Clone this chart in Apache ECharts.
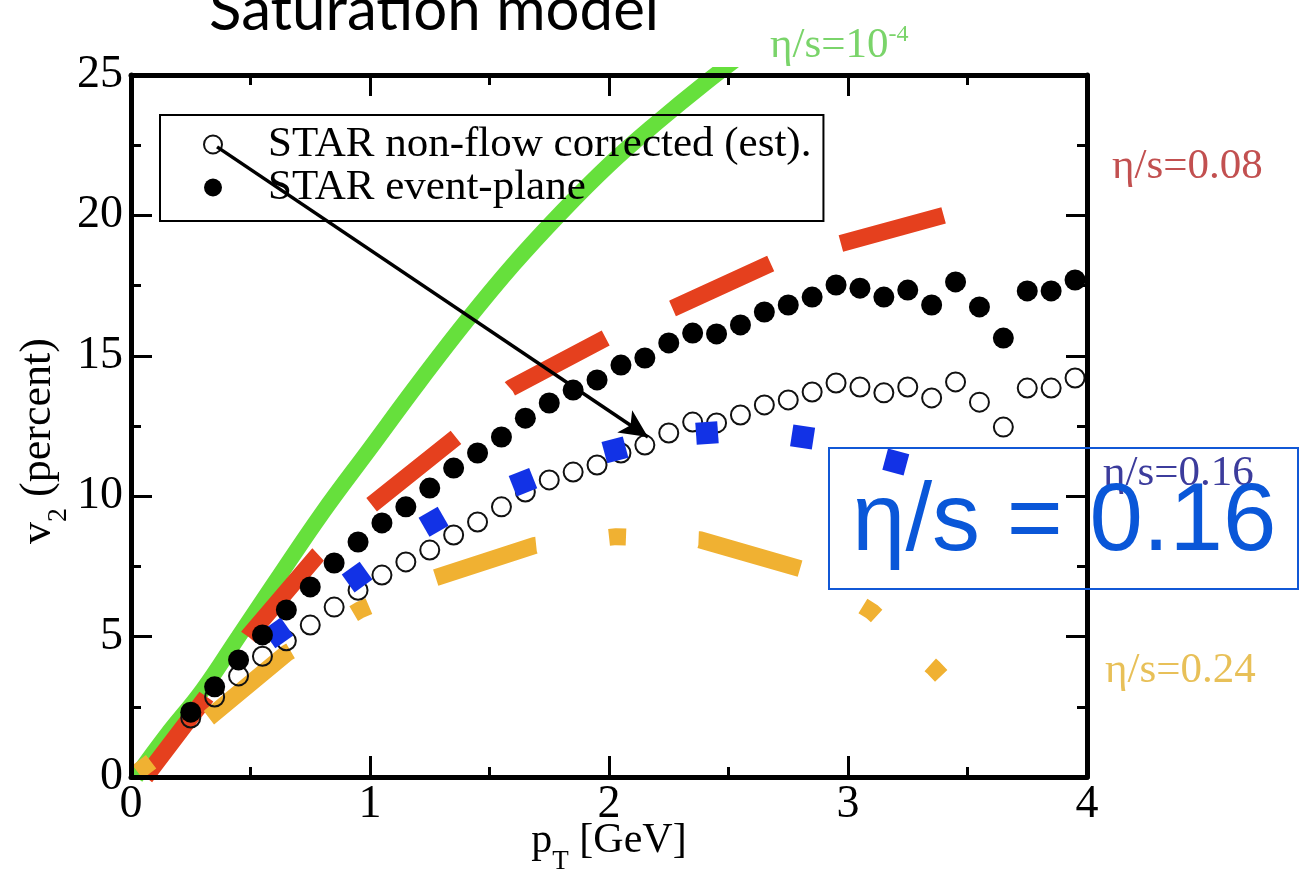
<!DOCTYPE html>
<html><head><meta charset="utf-8">
<script src="https://cdn.jsdelivr.net/npm/echarts@6/dist/echarts.min.js"></script>
<style>html,body{margin:0;padding:0;background:#fff}#c{width:1304px;height:872px}</style>
</head><body><div id="c"></div>
<script>
// ---- data ----
const pT = [0.25,0.35,0.45,0.55,0.65,0.75,0.85,0.95,1.05,1.15,1.25,1.35,1.45,1.55,1.65,1.75,1.85,1.95,2.05,2.15,2.25,2.35,2.45,2.55,2.65,2.75,2.85,2.95,3.05,3.15,3.25,3.35,3.45,3.55,3.65,3.75,3.85,3.95];
const eventPlane = [2.31,3.21,4.17,5.06,5.95,6.77,7.62,8.37,9.05,9.62,10.29,11.0,11.54,12.11,12.78,13.32,13.78,14.14,14.67,14.92,15.46,15.81,15.78,16.1,16.56,16.81,17.09,17.52,17.41,17.09,17.34,16.81,17.63,16.74,15.63,17.31,17.31,17.7];
const nonFlow = [2.1,2.85,3.6,4.3,4.85,5.41,6.05,6.65,7.19,7.66,8.08,8.62,9.08,9.62,10.15,10.58,10.86,11.11,11.54,11.82,12.25,12.64,12.61,12.89,13.25,13.43,13.71,14.03,13.89,13.68,13.89,13.5,14.07,13.35,12.46,13.85,13.85,14.21];

// eta/s = 1e-4 (green)
const ideal_pT = [0.02,0.15,0.3,0.45,0.6,0.8,1.0,1.2,1.4,1.6,1.8,2.0,2.2,2.4,2.6];
const ideal_v2 = [0,1.5,3.1,5.0,6.9,9.4,11.7,14.0,16.2,18.25,20.1,21.8,23.3,24.7,26.0];
// eta/s = 0.08 (red)
const v008_pT = [0.06,0.31,0.49,0.78,1.0,1.36,1.59,2.0,2.27,2.68,2.97,3.4];
const v008_v2 = [0,2.8,5.0,7.9,9.65,12.1,13.85,15.7,16.7,18.3,19.0,20.0];
// eta/s = 0.16 (blue squares)
const v016_pT = [0.615,0.946,1.266,1.64,2.025,2.41,2.81,3.2];
const v016_v2 = [5.13,7.12,9.09,10.5,11.65,12.25,12.11,11.22];
// eta/s = 0.24 (orange)
const v024_pT = [0,0.33,0.653,0.958,1.264,1.69,2.03,2.38,2.82,3.1,3.36,3.39];
const v024_v2 = [0,2.14,4.42,5.95,7.07,8.25,8.56,8.45,7.37,5.89,3.87,3.6];

const xTicks = [0,1,2,3,4];
const yTicks = [0,5,10,15,20,25];
const seriesNames = ['STAR non-flow corrected (est).','STAR event-plane'];
const curveLabels = ['η/s=0.08','η/s=0.16','η/s=0.24'];
const arrowFrom = [0.36,22.44];
const arrowTo = [2.163,12.11];

// ---- chart ----
const SERIF = 'Liberation Serif';
const pairs = (xs, ys) => xs.map((x,i)=>[x, ys[i]]);
const chart = echarts.init(document.getElementById('c'), null, {renderer:'canvas'});

const tickCommon = {
  axisLine:{show:true,onZero:false,lineStyle:{color:'#000',width:5}},
  axisTick:{show:true,inside:true,length:21,lineStyle:{color:'#000',width:3}},
  minorTick:{show:true,splitNumber:2,length:10,lineStyle:{color:'#000',width:3}},
  splitLine:{show:false}, minorSplitLine:{show:false}, z:10
};
const richX = {
  n:{fontFamily:SERIF,fontSize:42,color:'#000',verticalAlign:'top'},
  s:{fontFamily:SERIF,fontSize:27,color:'#000',verticalAlign:'top',padding:[28,0,0,0]}
};
const richY = {
  n:{fontFamily:SERIF,fontSize:44,color:'#000',verticalAlign:'top'},
  s:{fontFamily:SERIF,fontSize:28,color:'#000',verticalAlign:'top',padding:[29,0,0,0]}
};

const option = {
  animation:false,
  backgroundColor:'#fff',
  grid:{left:131,top:75,width:956,height:702,containLabel:false,outerBoundsMode:'none'},
  xAxis:[
    Object.assign({type:'value',min:xTicks[0],max:xTicks[xTicks.length-1],interval:1,position:'bottom',
      axisLabel:{fontFamily:SERIF,fontSize:46,color:'#000',margin:5},
      name:'{n|p}{s|T}{n| [GeV]}',nameLocation:'middle',nameGap:43,nameMoveOverlap:false,
      nameTextStyle:{rich:richX}}, tickCommon),
    Object.assign({type:'value',min:xTicks[0],max:xTicks[xTicks.length-1],interval:1,position:'top',
      axisLabel:{show:false}}, tickCommon)
  ],
  yAxis:[
    Object.assign({type:'value',min:yTicks[0],max:yTicks[yTicks.length-1],interval:5,position:'left',
      axisLabel:{fontFamily:SERIF,fontSize:46,color:'#000',margin:8},
      name:'{n|v}{s|2}{n| (percent)}',nameLocation:'middle',nameGap:58,nameRotate:90,nameMoveOverlap:false,
      nameTextStyle:{rich:richY,padding:[0,30,0,0]}}, tickCommon),
    Object.assign({type:'value',min:yTicks[0],max:yTicks[yTicks.length-1],interval:5,position:'right',
      axisLabel:{show:false}}, tickCommon)
  ],
  legend:{
    data:seriesNames, orient:'vertical', left:160, top:115,
    borderColor:'#000', borderWidth:2, borderRadius:0,
    padding:[8,12,12,43], itemGap:0, itemWidth:18, itemHeight:18,
    textStyle:{fontFamily:SERIF,fontSize:43,color:'#000',padding:[0,0,0,41]},
    selectedMode:false
  },
  series:[
    {type:'line',name:'η/s=1e-4',data:pairs(ideal_pT,ideal_v2),symbol:'none',smooth:0.4,silent:true,z:2,
      lineStyle:{color:'#66e03c',width:16,cap:'butt',opacity:1}},
    {type:'line',name:'η/s=0.08',data:pairs(v008_pT,v008_v2),symbol:'none',smooth:false,silent:true,z:2,
      lineStyle:{color:'#e5401e',width:17,cap:'butt',type:[108,73],dashOffset:7,opacity:1}},
    {type:'line',name:'η/s=0.24',data:pairs(v024_pT,v024_v2),symbol:'none',smooth:false,silent:true,z:2,
      lineStyle:{color:'#f0b132',width:17,cap:'butt',type:[105.6,73.3,17,72.6],dashOffset:170.6,opacity:1}},
    {type:'scatter',name:seriesNames[0],data:pairs(pT,nonFlow),symbol:'circle',symbolSize:19,z:3,
      itemStyle:{color:'rgba(255,255,255,0)',borderColor:'#111',borderWidth:2,opacity:1}},
    {type:'scatter',id:'blue',name:'η/s=0.16',data:pairs(v016_pT,v016_v2),symbol:'rect',symbolSize:22,z:4,
      itemStyle:{color:'#1232e6',opacity:1}},
    {type:'scatter',name:seriesNames[1],data:pairs(pT,eventPlane),symbol:'circle',symbolSize:21,z:5,
      itemStyle:{color:'#000',opacity:1}},
    {type:'scatter',name:'arrow',data:[],z:6,silent:true,
      markLine:{silent:true,symbol:['none','arrow'],symbolSize:[20,28],label:{show:false},animation:false,
        lineStyle:{color:'#000',width:3.5,type:'solid',opacity:1},
        data:[[{coord:arrowFrom},{coord:arrowTo}]]}}
  ],
  graphic:[
    {type:'text',x:434,y:11,z:20,style:{text:'Saturation model',font:'60px Lato',fill:'#000',align:'center',verticalAlign:'middle'}},
    {type:'text',x:770,y:46,z:20,style:{text:'{a|η/s=10}{b|-4}',align:'left',verticalAlign:'middle',
      rich:{a:{fontFamily:SERIF,fontSize:43,fill:'#7ad46a'},b:{fontFamily:SERIF,fontSize:24,fill:'#7ad46a',verticalAlign:'top',padding:[0,0,22,0]}}}},
    {type:'text',x:1112,y:166.5,z:20,style:{text:curveLabels[0],font:'43px "Liberation Serif"',fill:'#c25050',align:'left',verticalAlign:'middle'}},
    {type:'text',x:1103,y:473.5,z:20,style:{text:curveLabels[1],font:'43px "Liberation Serif"',fill:'#3c3c9c',align:'left',verticalAlign:'middle'}},
    {type:'text',x:1105,y:670.5,z:20,style:{text:curveLabels[2],font:'43px "Liberation Serif"',fill:'#e8c058',align:'left',verticalAlign:'middle'}},
    {type:'rect',z:21,shape:{x:829,y:448,width:469,height:141},style:{fill:'none',stroke:'#1158d6',lineWidth:2}},
    {type:'text',x:852,y:524,z:22,style:{text:'η/s = 0.16',font:'96px "Liberation Sans"',fill:'#0a57d8',align:'left',verticalAlign:'middle'}}
  ]
};
chart.setOption(option);

// orient blue squares along their curve
const px = v016_pT.map((p,i)=>chart.convertToPixel({gridIndex:0},[p,v016_v2[i]]));
const rot = px.map((pt,i)=>{
  const a = px[Math.max(0,i-1)], b = px[Math.min(px.length-1,i+1)];
  return Math.atan2(a[1]-b[1], b[0]-a[0])*180/Math.PI;
});
chart.setOption({series:[{id:'blue',data:v016_pT.map((p,i)=>({value:[p,v016_v2[i]],symbolRotate:rot[i]}))}]});
</script></body></html>
